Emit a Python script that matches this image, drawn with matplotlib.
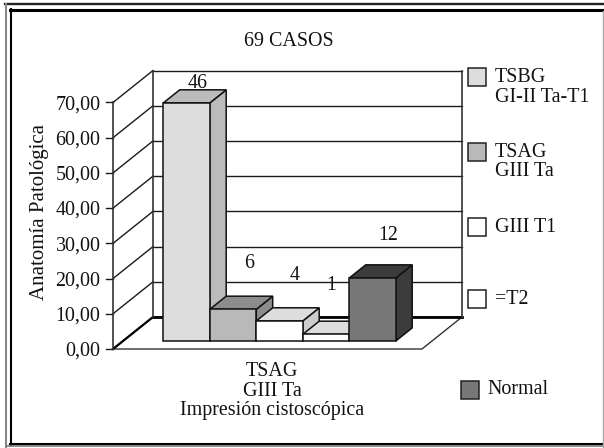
import matplotlib
matplotlib.use("Agg")
import matplotlib.pyplot as plt
from matplotlib.patches import Polygon, Rectangle

plt.rcParams['font.family'] = ['Liberation Serif', 'DejaVu Serif']

counts = ['46', '6', '4', '1', '12']
values = [67.6, 9.0, 5.7, 1.9, 17.9]
front_colors = ['#dddddd', '#b9b9b9', '#ffffff', '#ffffff', '#777777']
top_colors = ['#bbbbbb', '#8c8c8c', '#dddddd', '#dddddd', '#3c3c3c']
side_colors = ['#bbbbbb', '#8c8c8c', '#cccccc', '#cccccc', '#3c3c3c']
y_ticks = [0, 10, 20, 30, 40, 50, 60, 70]
y_tick_labels = ['0,00', '10,00', '20,00', '30,00', '40,00', '50,00', '60,00', '70,00']
legend_labels = ['TSBG\nGI-II Ta-T1', 'TSAG\nGIII Ta', 'GIII T1', '=T2', 'Normal']
legend_colors = ['#dddddd', '#b9b9b9', '#ffffff', '#ffffff', '#777777']
title = '69 CASOS'
ylabel = 'Anatomía Patológica'
xlabel = 'TSAG\nGIII Ta\nImpresión cistoscópica'

W, H = 604, 448
FS = 14.4
TXT = '#111111'
fig = plt.figure(figsize=(W / 100, H / 100), dpi=100, facecolor='white')

ov = fig.add_axes([0, 0, 1, 1], zorder=3)
ov.set_xlim(0, W); ov.set_ylim(H, 0); ov.axis('off'); ov.patch.set_alpha(0)

L, R, Y0, Y70 = 113, 422, 349, 102.5
ax = fig.add_axes([L / W, 1 - Y0 / H, (R - L) / W, (Y0 - Y70) / H], zorder=2)
ax.patch.set_alpha(0)
ax.axis('off')
BAR_PX = 46.5
ax.set_xlim(-(153.3 - L) / BAR_PX, -(153.3 - L) / BAR_PX + (R - L) / BAR_PX)
ax.set_ylim(0, 70)
x0, x1 = ax.get_xlim()
DX = 40 / BAR_PX
DY = 32 / ((Y0 - Y70) / 70)


def p(x, y, d=0.0):
    return (x + d * DX, y + d * DY)


LINE = dict(color='#1a1a1a', lw=1.0, clip_on=False, solid_capstyle='projecting')
ax.add_patch(Polygon([p(x0, 0), p(x1, 0), p(x1, 0, 1), p(x0, 0, 1)], closed=True,
                     fc='white', ec='#333333', lw=1.0, clip_on=False, zorder=1))
ax.plot(*zip(p(x0, 0, 1), p(x1, 0, 1)), color='black', lw=2.0, clip_on=False, zorder=2)
ax.plot(*zip(p(x0, 0), p(x0, 0, 1)), color='black', lw=1.6, clip_on=False, zorder=2)
for v in y_ticks[1:]:
    ax.plot(*zip(p(x0, v, 1), p(x1, v, 1)), zorder=2, **LINE)
    ax.plot(*zip(p(x0, v), p(x0, v, 1)), zorder=2, **LINE)
for v in y_ticks:
    ax.plot(*zip(p(x0 - 0.14, v), p(x0, v)), zorder=2, **LINE)
ax.plot(*zip(p(x0, 0), p(x0, 70)), zorder=2, color='#333333', lw=1.2, clip_on=False)
ax.plot(*zip(p(x0, 0, 1), p(x0, 70, 1)), zorder=2, color='#333333', lw=1.2, clip_on=False)
ax.plot(*zip(p(x1, 0, 1), p(x1, 70, 1)), zorder=2, color='#333333', lw=1.2, clip_on=False)

for v, lab in zip(y_ticks, y_tick_labels):
    ax.annotate(lab, p(x0, v), xytext=(-9, -1.6), textcoords='offset points',
                ha='right', va='center', fontsize=FS, color=TXT, annotation_clip=False)

D1, D2 = 0.25, 0.66
for i, (v, fc, tc, sc) in enumerate(zip(values, front_colors, top_colors, side_colors)):
    z = 3 + i
    kw = dict(closed=True, ec='#111111', lw=1.1, clip_on=False, zorder=z, joinstyle='miter')
    ax.add_patch(Polygon([p(i + 1, 0, D1), p(i + 1, 0, D2), p(i + 1, v, D2), p(i + 1, v, D1)], fc=sc, **kw))
    ax.add_patch(Polygon([p(i, v, D1), p(i + 1, v, D1), p(i + 1, v, D2), p(i, v, D2)], fc=tc, **kw))
    ax.add_patch(Polygon([p(i, 0, D1), p(i + 1, 0, D1), p(i + 1, v, D1), p(i, v, D1)], fc=fc, **kw))

count_pos = [(198, 83), (249, 263), (294.5, 276), (331, 286), (388, 235)]
for c, (tx, ty) in zip(counts, count_pos):
    ov.text(tx, ty, c, ha='center', va='center', fontsize=FS, color=TXT)

ov.text(289, 42, title, ha='center', va='center', fontsize=FS, color=TXT)
ov.text(40, 212.5, ylabel, ha='center', va='center', rotation=90, fontsize=15, color=TXT)
ov.text(272, 391, xlabel, ha='center', va='center', fontsize=FS, color=TXT, linespacing=1.05)

boxes = [(468, 68), (468, 143), (468, 218), (468, 290), (460.5, 381)]
text_y = [87.5, 162, 227, 299, 389]
for lab, col, (bx, by), ty in zip(legend_labels, legend_colors, boxes, text_y):
    ov.add_patch(Rectangle((bx, by), 18, 18, fc=col, ec='#222222', lw=1.1))
    ov.text(bx + 27, ty, lab, ha='left', va='center', fontsize=FS, color=TXT, linespacing=1.05)

# frame pieces
ov.plot([5, 604], [4.5, 4.5], color='#222222', lw=1.7, clip_on=False)
ov.plot([10, 604], [10, 10], color='black', lw=2.2, clip_on=False)
ov.plot([6, 6], [4, 447], color='#888888', lw=1.5, clip_on=False)
ov.plot([11, 11], [9, 445], color='black', lw=1.5, clip_on=False)
ov.plot([10, 604], [444, 444], color='black', lw=1.5, clip_on=False)
ov.plot([6, 604], [446, 446], color='#777777', lw=1.2, clip_on=False)
ov.plot([603.3, 603.3], [11, 447], color='#aaaaaa', lw=1.0, clip_on=False)

fig.savefig('out.png', dpi=100, facecolor='white')
